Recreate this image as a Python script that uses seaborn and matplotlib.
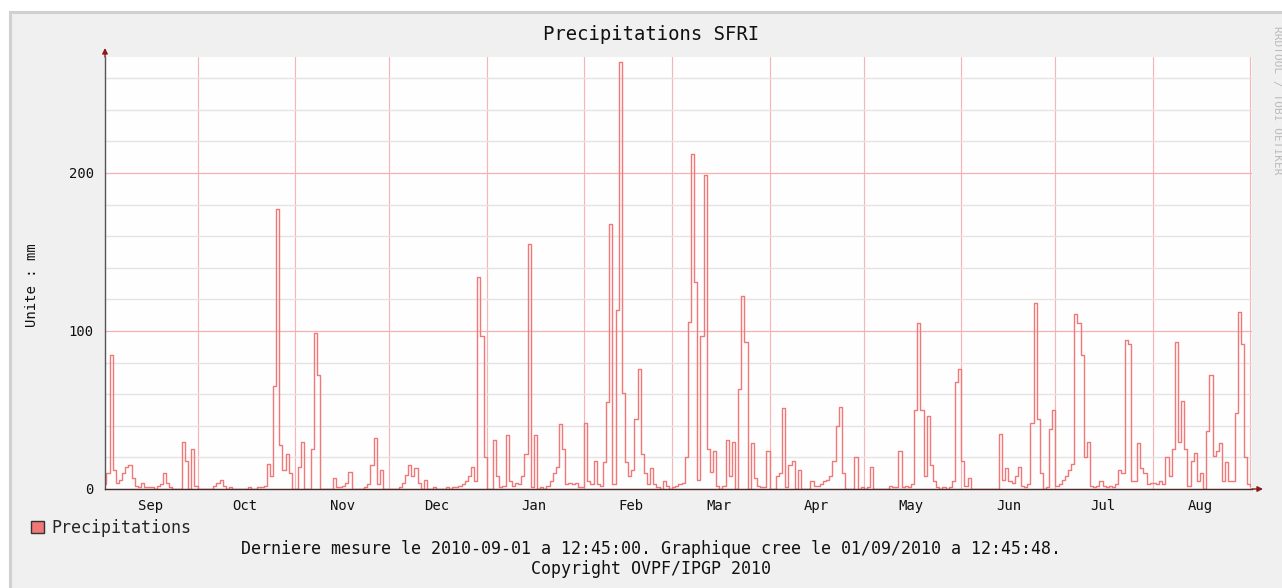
import numpy as np
import pandas as pd
import matplotlib
matplotlib.use("Agg")
import matplotlib.pyplot as plt
import matplotlib.dates as mdates
from matplotlib.ticker import NullFormatter
from matplotlib.patches import Rectangle, Patch
import seaborn as sns

# ---------------- data (daily precipitation, mm) ----------------
sep09 = [3, 10, 85, 12, 4, 6, 10, 14, 15, 7, 2, 1, 4, 1, 1, 1, 0, 2, 3, 10, 4, 1, 0, 0, 0, 30, 18, 0, 25, 2]
oct09 = [0, 0, 0, 0, 0, 2, 4, 6, 2, 0, 1, 0, 0, 0, 0, 0, 1, 0, 0, 1, 1, 2, 16, 8, 65, 177, 28, 12, 22, 10, 0]
nov09 = [0, 14, 30, 0, 0, 25, 99, 72, 0, 0, 0, 0, 7, 1, 1, 2, 4, 11, 0, 0, 0, 0, 1, 3, 15, 32, 3, 12, 0, 0]
dec09 = [0, 0, 0, 1, 4, 9, 15, 8, 13, 4, 0, 6, 0, 0, 1, 0, 0, 0, 1, 0, 1, 1, 2, 3, 5, 8, 14, 5, 134, 97, 20]
jan10 = [0, 0, 31, 8, 1, 2, 34, 5, 2, 4, 3, 8, 22, 155, 1, 34, 0, 1, 0, 2, 5, 10, 14, 41, 25, 3, 4, 3, 4, 1, 1]
feb10 = [42, 5, 3, 18, 3, 2, 17, 55, 168, 3, 113, 270, 61, 17, 8, 12, 44, 76, 22, 10, 3, 13, 3, 1, 0, 5, 2, 0]
mar10 = [1, 2, 3, 4, 20, 106, 212, 131, 6, 97, 199, 25, 11, 24, 2, 0, 2, 31, 8, 30, 0, 63, 122, 93, 0, 29, 7, 2, 1, 1, 24]
apr10 = [0, 0, 8, 10, 51, 1, 15, 18, 0, 12, 0, 0, 0, 5, 2, 2, 3, 5, 6, 8, 18, 40, 52, 10, 0, 0, 0, 20, 0, 1]
may10 = [0, 1, 14, 0, 0, 0, 0, 0, 2, 1, 1, 24, 1, 2, 1, 3, 50, 105, 50, 8, 46, 15, 5, 1, 0, 1, 0, 1, 5, 68, 76]
jun10 = [18, 2, 7, 0, 0, 0, 0, 0, 0, 0, 0, 0, 35, 6, 13, 5, 4, 8, 14, 2, 1, 3, 42, 118, 44, 10, 0, 1, 38, 50]
jul10 = [2, 3, 6, 8, 12, 16, 111, 105, 85, 20, 30, 2, 1, 2, 5, 2, 1, 2, 1, 3, 12, 10, 94, 92, 5, 5, 29, 13, 10, 3, 4]
aug10 = [4, 3, 5, 3, 20, 8, 25, 93, 30, 56, 25, 2, 18, 23, 5, 10, 0, 37, 72, 21, 24, 29, 5, 17, 5, 5, 48, 112, 92, 20, 3]
sep10 = [2]

month_starts = ["2009-09-01", "2009-10-01", "2009-11-01", "2009-12-01", "2010-01-01", "2010-02-01",
                "2010-03-01", "2010-04-01", "2010-05-01", "2010-06-01", "2010-07-01", "2010-08-01",
                "2010-09-01"]
monthly = [sep09, oct09, nov09, dec09, jan10, feb10, mar10, apr10, may10, jun10, jul10, aug10, sep10]

title = "Precipitations SFRI"
ylabel = "Unite : mm"
legend_label = "Precipitations"
footer1 = "Derniere mesure le 2010-09-01 a 12:45:00. Graphique cree le 01/09/2010 a 12:45:48."
footer2 = "Copyright OVPF/IPGP 2010"
watermark = "RRDTOOL / TOBI OETIKER"

frames = [pd.DataFrame({"date": pd.date_range(s, periods=len(v), freq="D"), "mm": v})
          for s, v in zip(month_starts, monthly)]
df = pd.concat(frames, ignore_index=True)

# ---------------- style ----------------
sns.set_style("white")
plt.rcParams["font.family"] = ["DejaVu Sans Mono", "DejaVu Sans"]

W, H = 1282, 588
fig = plt.figure(figsize=(W / 100, H / 100), dpi=100)
fig.patch.set_facecolor("white")
fig.patches.append(Rectangle((10 / W, -0.05), 1.0, 1 - 12 / H + 0.05, transform=fig.transFigure,
                             facecolor="#F0F0F0", edgecolor="#D0D0D0", linewidth=2.2, zorder=-10))

L, R, T, B = 105, 1252, 57, 489
ax = fig.add_axes([L / W, 1 - B / H, (R - L) / W, (B - T) / H])
ax.set_facecolor("#FEFEFE")

line_color = "#F07878"
sns.lineplot(data=df, x="date", y="mm", ax=ax, drawstyle="steps-post",
             color=line_color, linewidth=1.0, zorder=3)

ax.set_xlim(pd.Timestamp("2009-09-01 12:45"), pd.Timestamp("2010-09-01 12:45"))
ax.set_ylim(0, 273.4)

# y grid
ax.set_yticks([0, 100, 200])
ax.set_yticks(np.arange(0, 273, 20), minor=True)
ax.grid(which="minor", axis="y", color="#E4E4E4", linewidth=1.0, zorder=0)
ax.grid(which="major", axis="y", color="#F6B0B0", linewidth=0.9, zorder=1)

# x grid (month boundaries) and month labels (mid month)
ax.xaxis.set_major_locator(mdates.MonthLocator())
ax.xaxis.set_major_formatter(NullFormatter())
ax.xaxis.set_minor_locator(mdates.MonthLocator(bymonthday=16))
ax.xaxis.set_minor_formatter(mdates.DateFormatter("%b"))
ax.grid(which="major", axis="x", color="#F6B4B4", linewidth=0.85, zorder=1)

ax.tick_params(axis="x", which="minor", length=0, pad=7, labelsize=10, labelcolor="#111111")
ax.tick_params(axis="x", which="major", length=2, color="#888888")
ax.tick_params(axis="y", which="major", length=3, color="#999999", pad=5, labelsize=10, labelcolor="#111111")
ax.tick_params(axis="y", which="minor", length=3, color="#DDDDDD")

ax.set_xlabel("")
ax.set_ylabel("")

for s in ["top", "right"]:
    ax.spines[s].set_visible(False)
ax.spines["left"].set_color("#555555")
ax.spines["left"].set_linewidth(1.0)
ax.spines["bottom"].set_color("#4A2A2A")
ax.spines["bottom"].set_linewidth(1.0)
ax.spines["left"].set_zorder(5)
ax.spines["bottom"].set_zorder(5)

# axis arrows
arrow_color = "#8B1A1A"
ax.annotate("", xy=(0, 1 + 9 / (B - T)), xytext=(0, 1.0), xycoords="axes fraction",
            arrowprops=dict(arrowstyle="-|>", color=arrow_color, lw=1.0, mutation_scale=8,
                            shrinkA=0, shrinkB=0), annotation_clip=False)
ax.annotate("", xy=(1 + 11 / (R - L), 0), xytext=(1.0, 0), xycoords="axes fraction",
            arrowprops=dict(arrowstyle="-|>", color=arrow_color, lw=1.0, mutation_scale=8,
                            shrinkA=0, shrinkB=0), annotation_clip=False)

# texts
fig.text(651 / W, 1 - 35 / H, title, ha="center", va="center", fontsize=13.6, color="#111111")
fig.text(32 / W, 1 - 285 / H, ylabel, ha="center", va="center", rotation=90, fontsize=10, color="#111111")
fig.text(1277 / W, 1 - 100 / H, watermark, ha="center", va="center", rotation=270, fontsize=8,
         color="#BBBBBB")
fig.text(651 / W, 1 - 549 / H, footer1, ha="center", va="center", fontsize=12, color="#111111")
fig.text(651 / W, 1 - 569 / H, footer2, ha="center", va="center", fontsize=12, color="#111111")

fig.legend(handles=[Patch(facecolor=line_color, edgecolor="#333333", linewidth=1.0)],
           labels=[legend_label], loc="center left", bbox_to_anchor=(31 / W, 1 - 528 / H),
           frameon=False, fontsize=12, handlelength=0.75, handleheight=0.75,
           handletextpad=0.5, borderaxespad=0, borderpad=0)

fig.savefig("out.png", dpi=100, facecolor=fig.get_facecolor())
